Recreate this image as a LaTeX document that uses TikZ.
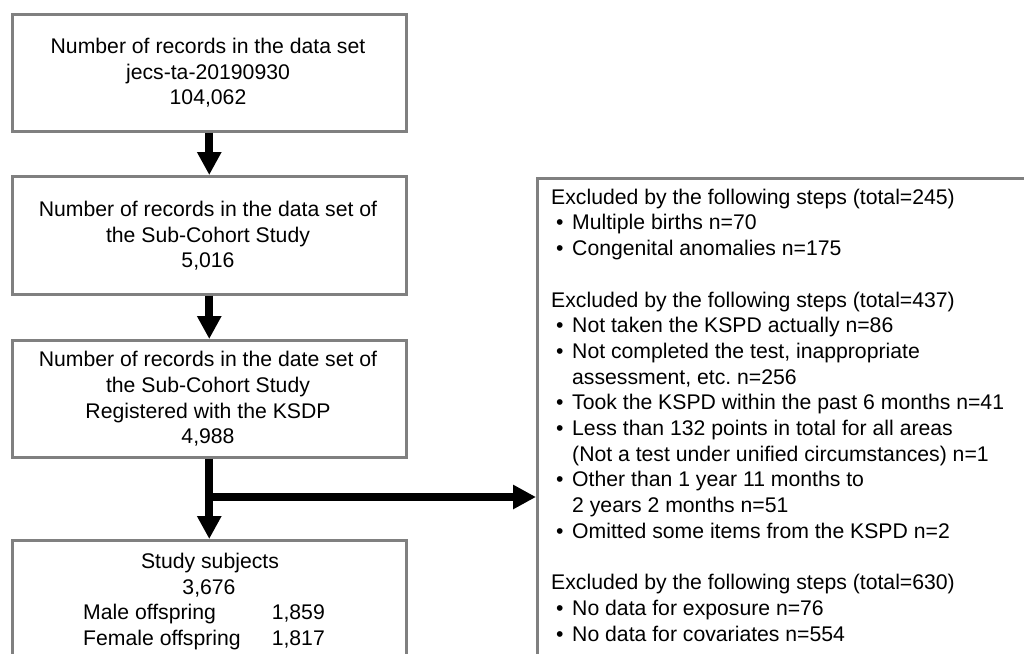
\documentclass[tikz,border=0pt]{standalone}
\usepackage{fontspec}
\setmainfont{Liberation Sans}
\usetikzlibrary{arrows.meta,calc}
\definecolor{bordergray}{RGB}{128,128,128}
\newcommand{\bul}{\makebox[21pt][l]{\hspace{5pt}•}}
\newcommand{\ind}{\hspace*{21pt}}
\frenchspacing
\begin{document}
\begin{tikzpicture}[x=1pt,y=-1pt,
  box/.style={draw=bordergray, line width=2.5pt, inner sep=0pt, anchor=north west},
  txt/.style={font=\fontsize{21.2}{25.7}\selectfont, inner sep=0pt, align=center},
  arr/.style={line width=8pt, -{Triangle[width=23pt,length=23pt]}}]
\useasboundingbox (0,0) rectangle (1024,653);
\clip (0,0) rectangle (1024,653);
\fill[white] (0,0) rectangle (1024,653);
% boxes
\node[box, minimum width=394pt, minimum height=117pt] (b1) at (11,13) {};
\node[box, minimum width=394pt, minimum height=118pt] (b2) at (11,175) {};
\node[box, minimum width=394pt, minimum height=117pt] (b3) at (11,339) {};
\node[box, minimum width=394pt, minimum height=200pt] (b4) at (11,539) {};
\node[box, minimum width=540pt, minimum height=540pt] (ex) at (536,177) {};
% texts (base anchor = baseline of the last line)
\node[txt, anchor=base] (t1) at (208,104.7) {Number of records in the data set\\jecs-ta-20190930\\104,062};
\node[txt, anchor=base] (t2) at (208,267.9) {Number of records in the data set of\\the Sub-Cohort Study\\5,016};
\node[txt, anchor=base] (t3) at (208,443.8) {Number of records in the date set of\\the Sub-Cohort Study\\Registered with the KSDP\\4,988};
\node[txt, anchor=base] (t4a) at (210,568.3) {Study subjects};
\node[txt, anchor=base] (t4b) at (209,594) {3,676};
\node[txt, anchor=base west] (t4c) at (83,619.7) {Male offspring};
\node[txt, anchor=base east] (t4d) at (325,619.7) {1,859};
\node[txt, anchor=base west] (t4e) at (83,645.4) {Female offspring};
\node[txt, anchor=base east] (t4f) at (325,645.4) {1,817};
\node[txt, align=left, anchor=base west] (ext) at (551,641.1) {Excluded by the following steps (total=245)\\
\bul Multiple births n=70\\
\bul Congenital anomalies n=175\\[25.7pt]
Excluded by the following steps (total=437)\\
\bul Not taken the KSPD actually n=86\\
\bul Not completed the test, inappropriate\\
\ind assessment, etc. n=256\\
\bul Took the KSPD within the past 6 months n=41\\
\bul Less than 132 points in total for all areas\\
\ind (Not a test under unified circumstances) n=1\\
\bul Other than 1 year 11 months to\\
\ind 2 years 2 months n=51\\
\bul Omitted some items from the KSPD n=2\\[25.7pt]
Excluded by the following steps (total=630)\\
\bul No data for exposure n=76\\
\bul No data for covariates n=554};
% arrows
\draw[arr] (b1.south) -- (b2.north);
\draw[arr] (b2.south) -- (b3.north);
\draw[arr] (b3.south) -- (b4.north);
\coordinate (br) at (208,497);
\draw[arr] (br) -- (br -| ex.west);
\end{tikzpicture}
\end{document}
